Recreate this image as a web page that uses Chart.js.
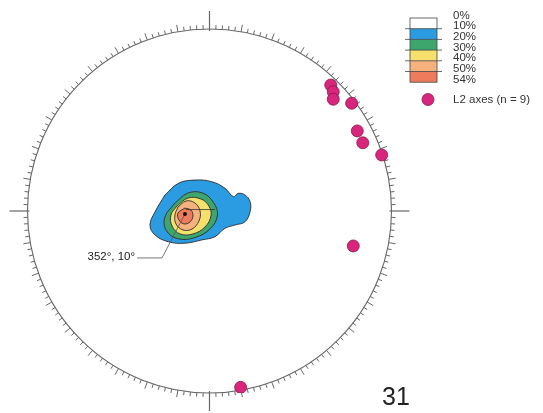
<!DOCTYPE html>
<html>
<head>
<meta charset="utf-8">
<script src="https://cdn.jsdelivr.net/npm/chart.js@4.4.1/dist/chart.umd.min.js"></script>
<style>
  html, body { margin: 0; padding: 0; background: #fff; }
  #wrap { width: 543px; height: 413px; }
</style>
</head>
<body>
<div id="wrap"><canvas id="net" width="543" height="413"></canvas></div>
<script>
// equal-area net, unit circle coords (x = east, y = north)
// L2 axes
var axesX = [0.666, 0.680, 0.680, 0.781, 0.812, 0.842, 0.946, 0.790, 0.171];
var axesY = [0.692, 0.655, 0.614, 0.592, 0.440, 0.375, 0.308, -0.192, -0.969];

// contour outlines (10% .. 50%)
var c10x = [-0.245, -0.171, -0.080, 0.012, 0.085, 0.131, 0.158, 0.195, 0.223, 0.223, 0.195, 0.140, 0.085, 0.030, -0.043, -0.135, -0.226, -0.299, -0.327, -0.299];
var c10y = [0.088, 0.152, 0.170, 0.161, 0.125, 0.079, 0.097, 0.088, 0.051, -0.004, -0.059, -0.077, -0.095, -0.141, -0.159, -0.177, -0.169, -0.132, -0.077, -0.004];
var c20x = [-0.195, -0.120, -0.036, 0.022, 0.044, 0.005, -0.080, -0.175, -0.238, -0.245];
var c20y = [0.038, 0.098, 0.098, 0.046, -0.022, -0.096, -0.146, -0.152, -0.106, -0.033];
var c30x = [-0.179, -0.118, -0.047, -0.003, 0.008, -0.025, -0.091, -0.162, -0.206, -0.212];
var c30y = [0.027, 0.071, 0.066, 0.027, -0.027, -0.088, -0.126, -0.126, -0.082, -0.022];
var c40x = [-0.173, -0.129, -0.080, -0.052, -0.058, -0.096, -0.146, -0.184, -0.190];
var c40y = [0.022, 0.055, 0.044, 0.000, -0.055, -0.099, -0.104, -0.071, -0.022];
var c50x = [-0.135, -0.102, -0.091, -0.107, -0.140, -0.168, -0.173];
var c50y = [0.016, 0.005, -0.027, -0.060, -0.071, -0.049, -0.011];

// max of density + label
var peak = { x: -0.135, y: -0.016 };
var peakLabel = "352°, 10°";
var leader = [{ x: -0.261, y: -0.258 }, { x: -0.398, y: -0.258 }];
var meanLine = [{ x: -0.13, y: 0.008 }, { x: 0.03, y: 0.008 }];

// legend
var levelLabels = ["0%", "10%", "20%", "30%", "40%", "50%", "54%"];
var levelColors = ["#ffffff", "#2b9be2", "#3da66c", "#f6e06c", "#f6b27e", "#ee7b5c"];
var pointLabel = "L2 axes (n = 9)";
var plateNo = "31";

function pts(xs, ys) {
    var out = [];
    for (var i = 0; i < xs.length; i++) out.push({ x: xs[i], y: ys[i] });
    out.push({ x: xs[0], y: ys[0] }); // close
    return out;
}

var contours = [[c10x, c10y], [c20x, c20y], [c30x, c30y], [c40x, c40y], [c50x, c50y]];
var datasets = [];
contours.forEach(function (c, i) {
    datasets.push({
        type: "scatter",
        data: pts(c[0], c[1]),
        showLine: true,
        fill: "shape",
        tension: 0.4,
        backgroundColor: levelColors[i + 1],
        borderColor: "#2d2d2d",
        borderWidth: 0.9,
        pointRadius: 0,
        order: 6 - i
    });
});
datasets.push({
    type: "scatter",
    data: axesX.map(function (x, i) { return { x: x, y: axesY[i] }; }),
    backgroundColor: "#d8267c",
    borderColor: "#8a1848",
    borderWidth: 0.8,
    pointRadius: 6,
    order: 0
});

// primitive circle, ticks, annotation, legend
var netPlugin = {
    id: "net",
    beforeDatasetsDraw: function (chart) {
        var ctx = chart.ctx, sx = chart.scales.x, sy = chart.scales.y;
        var cx = sx.getPixelForValue(0), cy = sy.getPixelForValue(0);
        var r = sx.getPixelForValue(1) - cx;
        ctx.save();
        ctx.strokeStyle = "#666";
        ctx.lineWidth = 1.1;
        ctx.beginPath();
        ctx.arc(cx, cy, r, 0, Math.PI * 2);
        ctx.stroke();
        for (var d = 0; d < 360; d += 2) {
            var a = d * Math.PI / 180;
            var card = d % 90 === 0;
            var len = card ? 18 : (d % 10 === 0 ? 7 : 4);
            var s = Math.sin(a), c = Math.cos(a);
            ctx.lineWidth = card ? 1.2 : 1;
            ctx.beginPath();
            ctx.moveTo(cx + s * (r - (card ? 2 : 0)), cy - c * (r - (card ? 2 : 0)));
            ctx.lineTo(cx + s * (r + len), cy - c * (r + len));
            ctx.stroke();
        }
        ctx.restore();
    },
    afterDatasetsDraw: function (chart) {
        var ctx = chart.ctx, sx = chart.scales.x, sy = chart.scales.y;
        function P(p) { return [sx.getPixelForValue(p.x), sy.getPixelForValue(p.y)]; }
        ctx.save();
        // mean line
        var m0 = P(meanLine[0]), m1 = P(meanLine[1]);
        ctx.strokeStyle = "#333";
        ctx.lineWidth = 0.8;
        ctx.beginPath(); ctx.moveTo(m0[0], m0[1]); ctx.lineTo(m1[0], m1[1]); ctx.stroke();
        // leader
        var p0 = P(peak), p1 = P(leader[0]), p2 = P(leader[1]);
        ctx.strokeStyle = "#555";
        ctx.beginPath(); ctx.moveTo(p0[0], p0[1]); ctx.lineTo(p1[0], p1[1]); ctx.lineTo(p2[0], p2[1]); ctx.stroke();
        ctx.fillStyle = "#111";
        ctx.beginPath(); ctx.arc(p0[0], p0[1], 2, 0, Math.PI * 2); ctx.fill();
        ctx.fillStyle = "#222";
        ctx.font = "11.5px 'Liberation Sans', Arial, sans-serif";
        ctx.textAlign = "right";
        ctx.textBaseline = "middle";
        ctx.fillText(peakLabel, p2[0] - 2, p2[1] - 1);

        // legend box
        var lx = 410, ly = 18, bw = 27, bh = 10.7;
        for (var i = 0; i < levelColors.length; i++) {
            ctx.fillStyle = levelColors[i];
            ctx.fillRect(lx, ly + i * bh, bw, bh);
        }
        ctx.strokeStyle = "#444";
        ctx.lineWidth = 0.8;
        ctx.strokeRect(lx, ly, bw, bh * levelColors.length);
        for (var j = 1; j < levelColors.length; j++) {
            ctx.beginPath();
            ctx.moveTo(lx - 5, ly + j * bh);
            ctx.lineTo(lx + bw + 5, ly + j * bh);
            ctx.stroke();
        }
        ctx.fillStyle = "#333";
        ctx.textAlign = "left";
        ctx.font = "11.5px 'Liberation Sans', Arial, sans-serif";
        for (var k = 0; k < levelLabels.length; k++) {
            ctx.fillText(levelLabels[k], 453, ly - 2.5 + k * bh);
        }
        // point legend
        ctx.fillStyle = "#d8267c";
        ctx.strokeStyle = "#8a1848";
        ctx.beginPath(); ctx.arc(428, 99.5, 6, 0, Math.PI * 2); ctx.fill(); ctx.stroke();
        ctx.fillStyle = "#333";
        ctx.fillText(pointLabel, 453, 100);
        // plate number
        ctx.fillStyle = "#222";
        ctx.font = "25px 'Liberation Sans', Arial, sans-serif";
        ctx.fillText(plateNo, 382, 398);
        ctx.restore();
    }
};

new Chart(document.getElementById("net"), {
    type: "scatter",
    data: { datasets: datasets },
    options: {
        responsive: false,
        animation: false,
        layout: { padding: { left: 27.5, right: 151.5, top: 29, bottom: 20 } },
        scales: {
            x: { display: false, min: -1, max: 1 },
            y: { display: false, min: -1, max: 1 }
        },
        plugins: { legend: { display: false }, tooltip: { enabled: false } }
    },
    plugins: [netPlugin]
});
</script>
</body>
</html>
